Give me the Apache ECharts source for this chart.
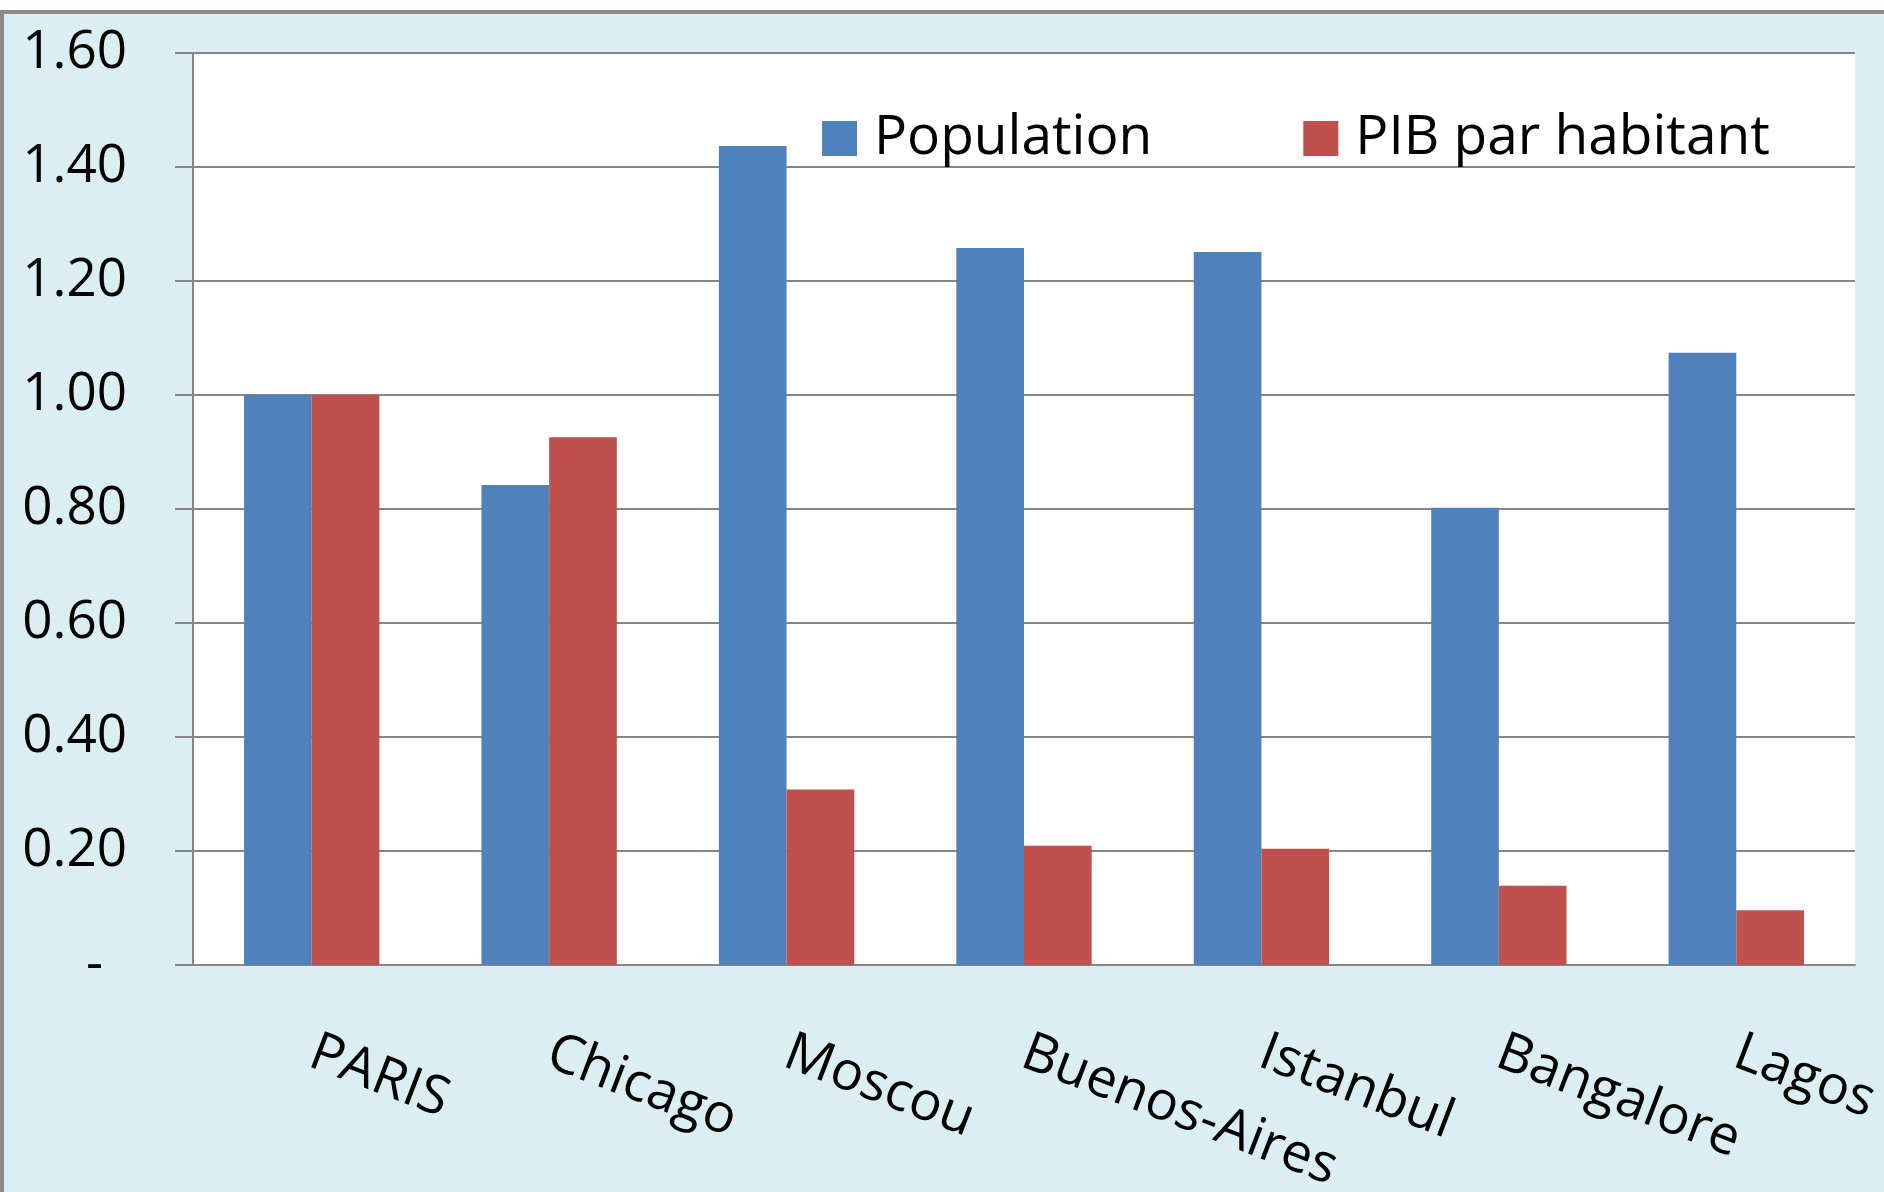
<!DOCTYPE html>
<html lang="fr">
<head>
<meta charset="UTF-8">
<title>Population et PIB par habitant</title>
<script src="https://cdn.jsdelivr.net/npm/echarts@6/dist/echarts.min.js"></script>
<style>
html, body { margin: 0; padding: 0; background: #fff; }
#frame {
position: absolute; top: 10px; left: 0;
width: 1884px; height: 1182px;
box-sizing: border-box;
background: #DAEEF3;
border-top: 4px solid #8a8a8a;
border-left: 4px solid #8a8a8a;
}
#chart { width: 100%; height: 100%; }
</style>
</head>
<body>
<div id="frame"><div id="chart"></div></div>
<script>
// villes (Paris = 1)
const cities = ['PARIS', 'Chicago', 'Moscou', 'Buenos-Aires', 'Istanbul', 'Bangalore', 'Lagos'];
const population = [1.00, 0.842, 1.437, 1.258, 1.251, 0.802, 1.074];
const pibParHabitant = [1.00, 0.926, 0.308, 0.209, 0.204, 0.139, 0.096];
const yTicks = [0, 0.2, 0.4, 0.6, 0.8, 1.0, 1.2, 1.4, 1.6];

const font = '"Open Sans", sans-serif';
const axisGray = '#868686';

const chart = echarts.init(document.getElementById('chart'));
chart.setOption({
animation: false,
textStyle: { fontFamily: font },
grid: {
left: 189, top: 39, right: 29, bottom: 227,
show: true, backgroundColor: '#fff', borderWidth: 0,
outerBoundsMode: 'none'
},
legend: {
left: 818, top: 97, padding: 0,
itemWidth: 35, itemHeight: 35, itemGap: 151,
icon: 'rect',
textStyle: { fontFamily: font, fontSize: 55, color: '#000', padding: [0, 0, 0, 12] },
data: ['Population', 'PIB par habitant']
},
xAxis: {
type: 'category',
data: cities,
axisLine: { lineStyle: { color: axisGray, width: 2 } },
axisTick: { length: 22, lineStyle: { color: axisGray, width: 2 } },
axisLabel: {
interval: 0, rotate: -21, margin: 86,
fontFamily: font, fontSize: 54, color: '#000'
}
},
yAxis: {
type: 'value',
min: yTicks[0], max: yTicks[yTicks.length - 1], interval: 0.2,
axisLine: { show: true, lineStyle: { color: axisGray, width: 2 } },
axisTick: { show: true, length: 18, lineStyle: { color: axisGray, width: 2 } },
splitLine: { lineStyle: { color: axisGray, width: 2 } },
axisLabel: {
margin: 66, fontFamily: font, fontSize: 53, color: '#000',
formatter: v => v === 0 ? '{z|-}' : v.toFixed(2),
rich: { z: { fontFamily: font, fontSize: 53, color: '#000', padding: [0, 24, 0, 0] } }
}
},
series: [
{
name: 'Population', type: 'bar', data: population,
barGap: '0%', barCategoryGap: '43%',
itemStyle: { color: '#4F81BD' }
},
{
name: 'PIB par habitant', type: 'bar', data: pibParHabitant,
barGap: '0%', barCategoryGap: '43%',
itemStyle: { color: '#C0504D' }
}
]
});
</script>
</body>
</html>
